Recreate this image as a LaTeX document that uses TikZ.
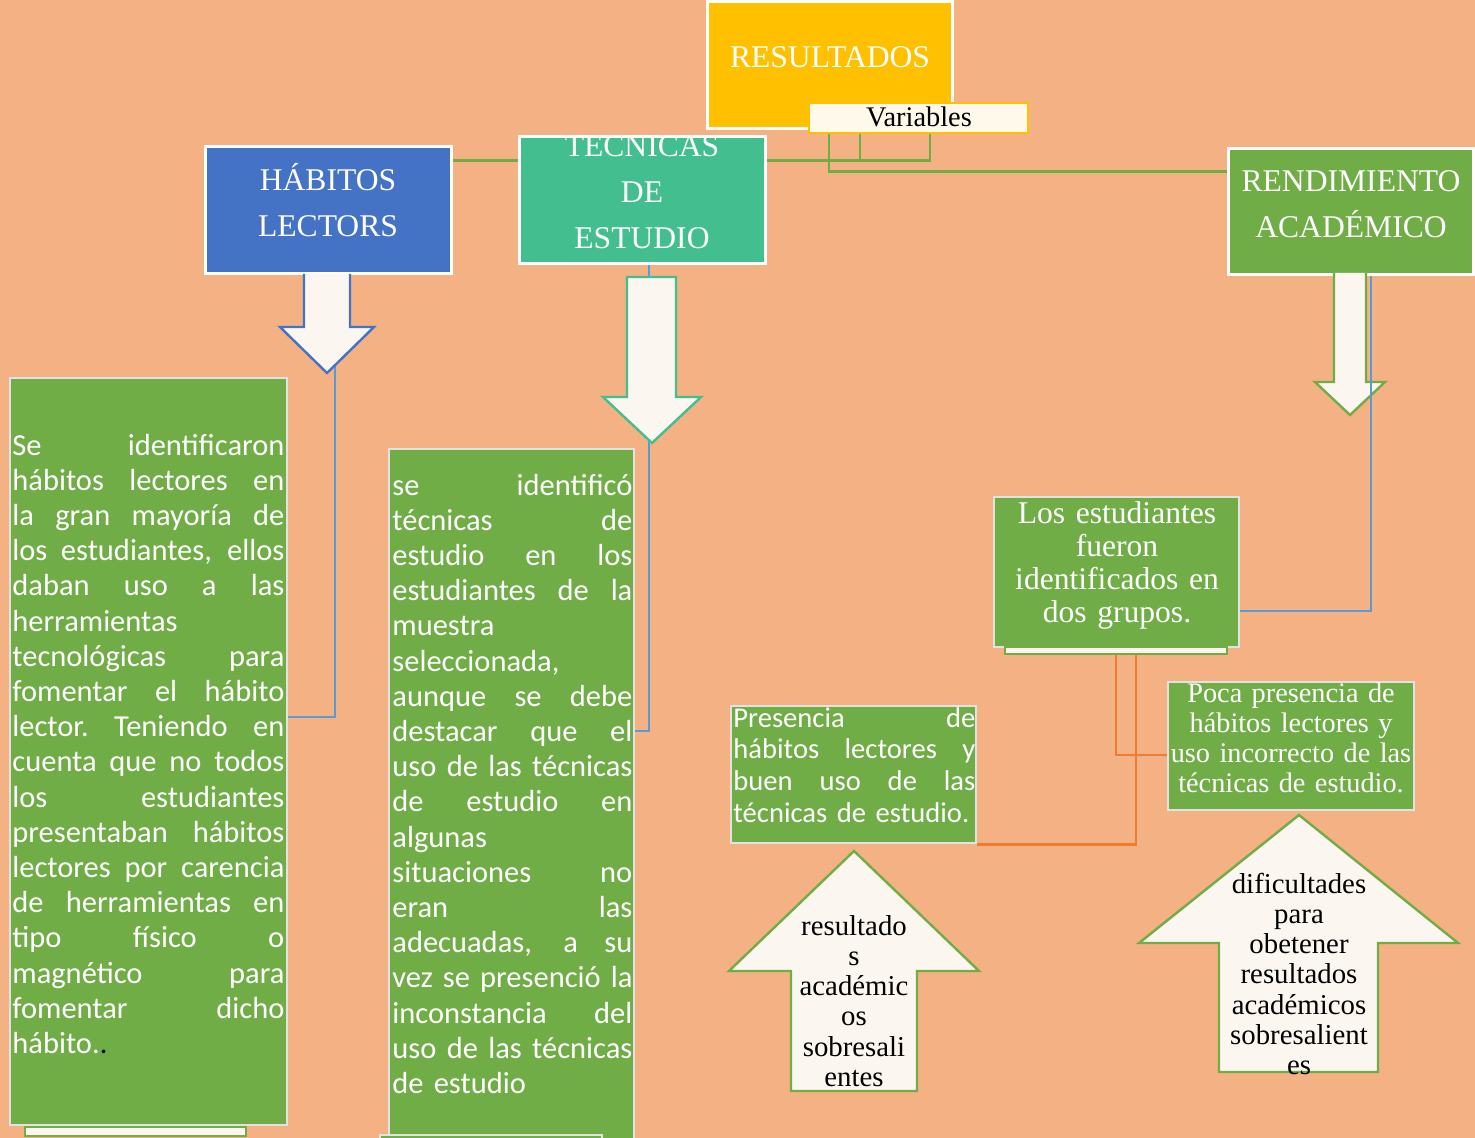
\documentclass[tikz,border=0pt]{standalone}
\usepackage{fontspec}
\setmainfont{Liberation Serif}
\setsansfont{Carlito}
\usetikzlibrary{calc}

\definecolor{fondo}{RGB}{244,177,131}
\definecolor{amarillo}{RGB}{255,192,0}
\definecolor{crema}{RGB}{255,249,236}
\definecolor{blanco}{RGB}{251,247,240}
\definecolor{azul}{RGB}{68,114,196}
\definecolor{turquesa}{RGB}{67,191,143}
\definecolor{verde}{RGB}{112,173,71}
\definecolor{celeste}{RGB}{91,155,213}
\definecolor{naranja}{RGB}{237,125,49}
\definecolor{gris}{RGB}{226,226,226}

% renglon justificado a todo el ancho
\newcommand{\linea}[1]{\leavevmode\hbox to \hsize{\spaceskip=0.23em plus 1fill\xspaceskip=\spaceskip\relax #1}}

\tikzset{
  caja/.style={draw=white, line width=1.5pt, inner sep=0pt},
  cajaverde/.style={draw=gris, fill=verde, line width=1.2pt, inner sep=0pt},
  barra/.style={draw=verde, fill=blanco, line width=1pt, inner sep=0pt},
  flecha/.style={fill=blanco, line width=1.2pt, line join=miter},
  lineaverde/.style={draw=verde, line width=1.3pt},
  lineaazul/.style={draw=celeste, line width=1.2pt},
  lineanaranja/.style={draw=naranja, line width=1.4pt},
  titulo/.style={text=white, font=\fontsize{15.8pt}{23pt}\selectfont,
    text width=120pt, align=center, anchor=base, inner sep=0pt},
  parrafo/.style={text=white, font=\sffamily\fontsize{15.25pt}{17.6pt}\selectfont,
    align=left, anchor=base west, inner sep=0pt},
  centrado/.style={text=white, align=center, anchor=base, inner sep=0pt},
  texflecha/.style={text=black, font=\fontsize{14.4pt}{15.15pt}\selectfont,
    text width=80pt, align=center, anchor=base, inner sep=0pt}
}

\begin{document}
\begin{tikzpicture}[x=0.5pt, y=-0.5pt]
\useasboundingbox (0,0) rectangle (1475,1138);
\fill[fondo] (0,0) rectangle (1475,1138);

% cajas de titulo
\node[caja, fill=amarillo, minimum width=122.5pt, minimum height=63.5pt] (resultados) at (829.5,65.5) {};
\node[draw=amarillo, fill=crema, line width=1.2pt, inner sep=0pt, minimum width=109.5pt, minimum height=15pt] (variables) at (918.5,118) {};
\node[caja, fill=azul, minimum width=123pt, minimum height=63.5pt] (habitos) at (328,210.5) {};
\node[caja, fill=turquesa, minimum width=123pt, minimum height=63.5pt] (tecnicas) at (642,200.5) {};
\node[caja, fill=verde, minimum width=122.5pt, minimum height=63pt] (rendimiento) at (1350.5,212) {};

% cajas de texto
\node[cajaverde, minimum width=138.5pt, minimum height=373.5pt] (caja1) at (148.5,751.5) {};
\node[cajaverde, minimum width=122.5pt, minimum height=348pt] (caja2) at (511.5,797) {};
\node[cajaverde, minimum width=122.5pt, minimum height=75pt] (grupos) at (1116.5,572) {};
\node[cajaverde, minimum width=123pt, minimum height=64pt] (poca) at (1291,746) {};
\node[cajaverde, minimum width=122.5pt, minimum height=68.5pt] (presencia) at (853.5,774.5) {};
\node[barra, minimum width=110.5pt, minimum height=4.5pt] (barra1) at (135.5,1131.5) {};
\node[cajaverde, minimum width=111pt, minimum height=3.5pt] (barra2) at (491,1138.5) {};
\node[barra, minimum width=111pt, minimum height=3.5pt] (barra3) at (1116,650.5) {};

% conectores
\draw[lineaverde] ([yshift=-7.5pt]habitos.north east) -- ([yshift=-12.5pt]tecnicas.north west);
\draw[lineaverde] ([xshift=10.5pt]variables.south west) |- ([yshift=-12pt]rendimiento.north west);
\draw[lineaverde] ([xshift=26pt]variables.south west) |- ([yshift=-12.5pt]tecnicas.north east);
\draw[lineaverde] ([xshift=61pt]variables.south west) |- ([yshift=-12.5pt]tecnicas.north east);
\draw[lineaazul] ([xshift=3.5pt]habitos.south) |- ([yshift=-170pt]caja1.north east);
\draw[lineaazul] ([xshift=3.5pt]tecnicas.south) |- ([yshift=-141.5pt]caja2.north east);
\draw[lineanaranja] (barra3.south) |- ([yshift=-4.5pt]poca.west);
\draw[lineanaranja] ([xshift=10pt]barra3.south) |- (presencia.south east);

% flechas
\filldraw[flecha, draw=azul] (350,274) -- (350,327) -- (374,327) -- (327,373) -- (280,327) -- (304,327) -- (304,274);
\filldraw[flecha, draw=turquesa] (627,277) -- (676,277) -- (676,397) -- (701,397) -- (652,443) -- (603,397) -- (627,397) -- cycle;
\filldraw[flecha, draw=verde] (1366,273) -- (1366,382) -- (1385,382) -- (1350,415) -- (1315,382) -- (1334,382) -- (1334,273);
\filldraw[flecha, draw=verde] (791,1091) -- (917,1091) -- (917,971) -- (979,971) -- (854,851) -- (729,971) -- (791,971) -- cycle;
\filldraw[flecha, draw=verde] (1219,1072) -- (1378,1072) -- (1378,943) -- (1458,943) -- (1299,815) -- (1139,943) -- (1219,943) -- cycle;
\draw[lineaazul] ([xshift=10.25pt]rendimiento.south) |- ([yshift=-19.5pt]grupos.east);

% textos
\node[titulo] (t-resultados) at (830,68) {RESULTADOS};
\node[centrado, text=black, font=\fontsize{14.2pt}{15pt}\selectfont] (t-variables) at (919,127) {Variables};
\node[titulo] (t-habitos) at (328,191) {HÁBITOS\\LECTORS};
\node[titulo] (t-tecnicas) at (642,157) {TECNICAS\\DE\\ESTUDIO};
\node[titulo] (t-rendimiento) at (1351,192) {RENDIMIENTO\\ACADÉMICO};
\node[centrado, text width=122pt, font=\fontsize{15.8pt}{16.65pt}\selectfont] (t-grupos) at (1117,523)
  {Los estudiantes\\fueron\\identificados en\\dos grupos.};
\node[centrado, text width=124pt, font=\fontsize{14.15pt}{15pt}\selectfont] (t-poca) at (1291,702)
  {Poca presencia de\\hábitos lectores y\\uso incorrecto de las\\técnicas de estudio.};
\node[parrafo, text width=121pt, font=\sffamily\fontsize{14.3pt}{15.85pt}\selectfont] (t-presencia) at (733,727)
  {\linea{Presencia de}\\\linea{hábitos lectores y}\\\linea{buen uso de las}\\técnicas de estudio.};
\node[parrafo, text width=136pt] (t-caja1) at (12,455) {%
  \linea{Se identificaron}\\
  \linea{hábitos lectores en}\\
  \linea{la gran mayoría de}\\
  \linea{los estudiantes, ellos}\\
  \linea{daban uso a las}\\
  herramientas\\
  \linea{tecnológicas para}\\
  \linea{fomentar el hábito}\\
  \linea{lector. Teniendo en}\\
  \linea{cuenta que no todos}\\
  \linea{los estudiantes}\\
  \linea{presentaban hábitos}\\
  \linea{lectores por carencia}\\
  \linea{de herramientas en}\\
  \linea{tipo físico o}\\
  \linea{magnético para}\\
  \linea{fomentar dicho}\\
  hábito.\textcolor{black}{.}};
\node[parrafo, text width=120pt] (t-caja2) at (392,495) {%
  \linea{se identificó}\\
  \linea{técnicas de}\\
  \linea{estudio en los}\\
  \linea{estudiantes de la}\\
  muestra\\
  seleccionada,\\
  \linea{aunque se debe}\\
  \linea{destacar que el}\\
  \linea{uso de las técnicas}\\
  \linea{de estudio en}\\
  algunas\\
  \linea{situaciones no}\\
  \linea{eran las}\\
  \linea{adecuadas, a su}\\
  \linea{vez se presenció la}\\
  \linea{inconstancia del}\\
  \linea{uso de las técnicas}\\
  de estudio};
\node[texflecha] (t-flecha1) at (854,935) {resultado\\s\\académic\\os\\sobresali\\entes};
\node[texflecha] (t-flecha2) at (1299,893) {dificultades\\para\\obetener\\resultados\\académicos\\sobresalient\\es};
\end{tikzpicture}
\end{document}
